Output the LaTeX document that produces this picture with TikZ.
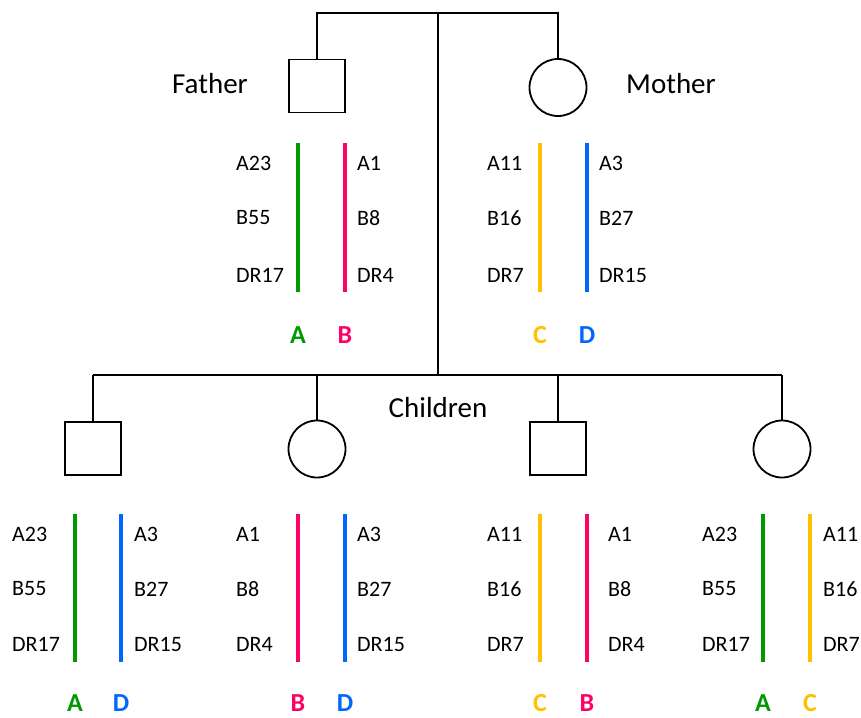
\documentclass[tikz,border=0pt]{standalone}
\usepackage{fontspec}
\setmainfont{Carlito}
\begin{document}
\begin{tikzpicture}[x=1pt,y=-1pt,
  kin/.style={draw=black,line width=1.8pt},
  male/.style={kin,rectangle,minimum width=56pt,minimum height=53pt,inner sep=0pt},
  female/.style={kin,circle,minimum size=57pt,inner sep=0pt},
  title/.style={font=\fontsize{29}{32}\selectfont,inner sep=0pt},
  allele/.style={font=\fontsize{22}{25}\selectfont,anchor=west,inner sep=0pt},
  hap/.style={font=\fontsize{26}{30}\selectfont\bfseries,inner sep=0pt},
  chrom/.style={line width=3.6pt}]
\definecolor{hapA}{RGB}{0,153,0}
\definecolor{hapB}{RGB}{255,0,102}
\definecolor{hapC}{RGB}{255,192,0}
\definecolor{hapD}{RGB}{0,102,255}
\useasboundingbox (0,0) rectangle (861,717);

% parents
\node[male] (father) at (317,86) {};
\node[female] (mother) at (558,87.5) {};
\node[title] (tfather) at (210,84) {Father};
\node[title] (tmother) at (671,84) {Mother};
\coordinate (mL) at (317,13);
\coordinate (mM) at (438,13);
\coordinate (mR) at (558,13);
\draw[kin] (father.north) -- (mL) -- (mR) -- (mother.north);

% children
\node[male] (c1) at (93,448.5) {};
\node[female] (c2) at (317,449) {};
\node[male] (c3) at (558,448.5) {};
\node[female] (c4) at (782,449) {};
\node[title] (tchildren) at (438,408) {Children};
\coordinate (sM) at (438,375);
\coordinate (sL) at (93,375);
\coordinate (sR) at (782,375);
\draw[kin] (mM) -- (sM);
\draw[kin] (sL) -- (sR);
\foreach \c/\x in {c1/93,c2/317,c3/558,c4/782}
  \draw[kin] (\x,375) -- (\c.north);

% parental haplotypes: line x / colour / letter / text x / alleles
\foreach \lx/\col/\hl/\tx/\a/\b/\d [count=\i] in {
  298/hapA/A/236/A23/B55/DR17,
  345/hapB/B/357/A1/B8/DR4,
  540/hapC/C/487/A11/B16/DR7,
  587/hapD/D/599/A3/B27/DR15}
{
  \draw[chrom,\col] (\lx,143) -- (\lx,292);
  \node[hap,text=\col] (hp\i) at (\lx,335) {\hl};
  \node[allele] (hpa\i) at (\tx,163) {\a};
  \node[allele] (hpb\i) at (\tx,218) {\b};
  \node[allele] (hpd\i) at (\tx,275) {\d};
}
% haplotypes inherited by the children
\foreach \lx/\col/\hl/\tx/\a/\b/\d [count=\i] in {
  75/hapA/A/12/A23/B55/DR17,
  121/hapD/D/134/A3/B27/DR15,
  298/hapB/B/236/A1/B8/DR4,
  345/hapD/D/357/A3/B27/DR15,
  540/hapC/C/487/A11/B16/DR7,
  587/hapB/B/608/A1/B8/DR4,
  763/hapA/A/702/A23/B55/DR17,
  810/hapC/C/823/A11/B16/DR7}
{
  \draw[chrom,\col] (\lx,514) -- (\lx,662);
  \node[hap,text=\col] (hc\i) at (\lx,703) {\hl};
  \node[allele] (hca\i) at (\tx,534) {\a};
  \node[allele] (hcb\i) at (\tx,589) {\b};
  \node[allele] (hcd\i) at (\tx,644) {\d};
}
\end{tikzpicture}
\end{document}
